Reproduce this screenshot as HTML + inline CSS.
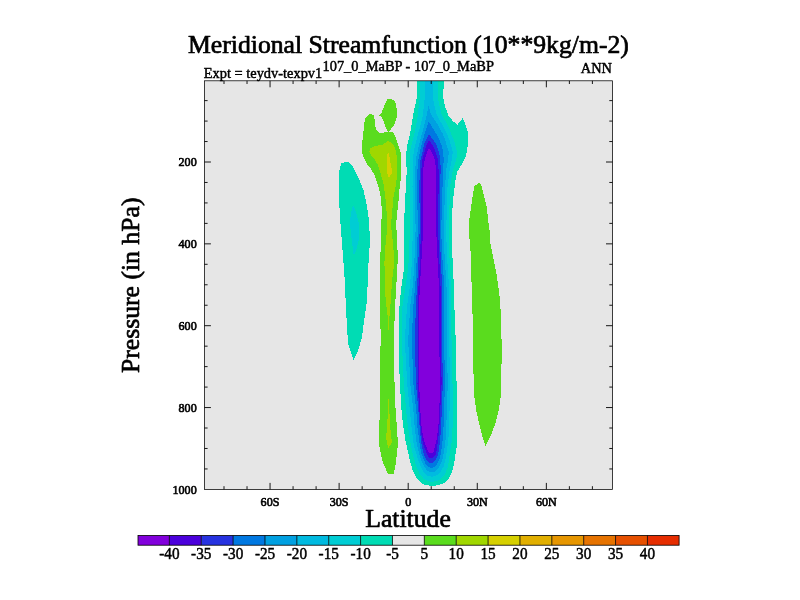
<!DOCTYPE html>
<html lang="en"><head><meta charset="utf-8"><title>Meridional Streamfunction</title>
<style>html,body{margin:0;padding:0;background:#fff}svg{display:block}text{font-family:"Liberation Serif",serif;fill:#000;stroke:#000;stroke-linejoin:round}</style></head><body>
<svg width="800" height="600" viewBox="0 0 800 600">
<rect width="800" height="600" fill="#fff"/>
<rect x="204.4" y="80.8" width="408.1" height="408.6" fill="#e6e6e6"/>
<clipPath id="c"><rect x="204.4" y="80.8" width="408.1" height="408.6"/></clipPath>
<g clip-path="url(#c)" shape-rendering="crispEdges">
<polygon points="341.2,163.1 347.5,161.9 349.5,163.0 353.0,167.0 355.0,171.2 360.0,181.2 363.8,191.2 366.2,202.5 368.1,213.8 369.4,225.0 369.8,243.8 368.1,268.8 367.1,300.0 364.4,318.8 361.9,337.5 357.5,352.5 353.5,359.8 348.1,343.8 346.9,325.0 345.6,300.0 344.4,275.0 342.5,250.0 340.6,225.0 339.4,206.2 339.0,187.5 339.4,170.0" fill="#00dcb4"/>
<polygon points="353.1,205.0 356.2,212.5 359.4,225.0 359.4,237.5 356.2,250.0 353.8,256.2 351.9,241.2 350.0,225.0 350.6,215.0" fill="#00cdd4"/>
<polygon points="480.0,182.4 481.9,187.5 484.4,197.5 486.9,207.5 488.1,220.0 489.8,232.5 490.6,245.0 493.8,260.0 496.9,276.2 499.4,295.0 500.6,310.0 501.0,320.0 501.5,338.8 501.5,363.8 501.0,382.5 500.6,397.5 498.8,410.0 495.6,422.5 491.2,435.0 485.6,445.9 481.9,435.0 478.8,422.5 476.2,410.0 474.4,397.5 474.0,385.0 473.1,365.0 472.8,320.0 472.2,307.0 471.2,270.0 470.6,252.0 469.1,233.8 469.1,221.0 470.6,210.0 472.8,195.0 474.4,186.2" fill="#5adc1e"/>
<polygon points="371.0,113.6 373.6,115.2 374.8,120.5 375.5,126.5 376.2,130.2 379.2,132.5 382.2,132.9 385.2,132.1 388.0,131.5 386.0,128.0 383.8,122.0 381.9,117.5 378.9,115.1 381.5,112.6 383.4,108.5 385.2,103.2 387.1,99.5 388.2,98.8 394.2,99.9 396.1,104.8 397.1,112.2 396.5,118.2 394.2,125.0 391.2,128.8 388.6,131.6 392.8,132.5 395.0,135.5 397.5,143.1 400.0,150.0 400.6,152.0 400.9,159.4 401.2,168.8 400.9,178.0 399.7,187.0 398.1,206.0 396.9,215.0 396.2,224.0 397.5,250.0 397.6,262.0 397.2,270.0 396.2,288.0 395.0,307.0 394.4,325.0 394.4,375.0 394.8,400.0 396.2,415.0 396.9,430.6 397.8,440.0 397.5,448.0 396.9,453.8 395.6,465.0 393.8,474.0 388.1,474.0 386.2,470.0 382.5,461.2 380.0,450.0 379.0,443.8 379.4,425.0 380.0,400.0 380.2,375.0 380.6,337.5 380.2,300.0 380.2,287.5 379.8,266.2 380.6,250.0 381.2,225.0 381.9,212.5 381.2,200.0 378.8,187.5 375.0,176.2 370.5,168.0 367.0,164.0 363.4,157.0 361.5,150.0 362.5,140.0 363.5,131.0 363.9,125.0 365.0,119.0 368.0,115.2" fill="#5adc1e"/>
<polygon points="388.0,141.0 392.0,143.0 394.5,147.0 396.3,152.0 397.2,162.5 397.3,175.0 395.6,186.0 393.5,197.5 392.1,212.5 390.9,225.0 393.1,243.8 394.4,262.5 392.0,281.2 390.8,300.0 389.8,312.5 388.5,330.0 387.5,315.0 385.6,300.0 385.0,281.2 384.4,262.5 385.6,243.8 387.5,225.0 386.9,215.0 385.6,200.0 383.8,185.0 380.0,171.2 378.0,165.0 375.0,160.0 371.0,155.5 369.3,151.5 370.5,148.0 375.0,146.0 383.0,144.5" fill="#a0d700"/>
<polygon points="388.5,398.8 389.4,412.5 390.6,431.2 391.9,442.5 388.5,448.1 386.9,443.8 386.2,437.5 387.5,418.8" fill="#a0d700"/>
<polygon points="387.9,150.6 389.7,158.0 390.5,163.0 392.5,172.0 388.7,178.1 387.0,172.5 386.8,165.0 387.0,158.0" fill="#d6d000"/>
<polygon points="416.9,80.5 416.9,96.8 415.0,106.1 413.1,115.0 411.6,124.4 410.0,133.8 407.6,143.1 406.4,152.0 406.2,159.4 406.7,171.9 406.2,181.2 405.8,187.0 404.4,215.0 404.1,230.0 404.0,252.0 403.8,270.0 401.2,288.0 399.4,307.0 399.0,340.0 399.1,365.0 400.0,383.8 400.9,402.0 401.9,415.0 403.4,427.5 405.4,440.0 408.0,452.0 410.0,461.4 412.5,469.5 415.6,476.4 419.4,481.4 423.1,484.2 427.5,485.4 432.5,485.8 437.5,485.4 441.2,484.2 444.6,483.0 448.1,479.5 451.2,473.9 453.1,468.2 454.7,460.1 455.8,452.0 456.9,446.0 456.9,415.0 456.6,383.8 456.0,365.0 455.7,340.0 454.4,307.0 453.9,288.0 453.1,270.0 452.2,252.0 451.9,230.0 452.1,215.0 453.0,200.0 454.7,187.0 455.3,181.2 456.2,176.2 457.5,171.2 460.6,166.2 463.8,160.6 466.2,155.0 467.2,150.0 468.1,140.0 467.5,130.6 465.0,123.1 462.5,118.4 457.2,125.0 452.5,120.6 448.1,115.0 445.0,106.1 443.4,98.6 443.4,90.5 444.1,80.5" fill="#00dcb4"/>
<polygon points="420.0,80.5 420.0,96.8 418.8,105.5 417.9,115.0 416.2,124.4 415.6,127.5 414.4,133.8 412.7,140.0 411.9,143.1 411.2,146.2 410.0,152.0 409.7,159.4 409.7,168.8 409.7,187.0 409.7,230.0 409.3,252.0 408.0,270.0 405.2,288.0 402.4,307.0 401.8,340.0 403.8,383.8 406.6,415.0 408.1,427.5 410.0,440.0 411.0,446.2 412.3,452.0 414.4,460.1 416.9,468.2 420.0,474.5 423.8,478.9 428.1,481.3 432.5,481.7 437.5,481.0 441.9,478.2 445.0,474.5 447.5,467.6 449.1,460.1 450.0,452.0 451.2,446.2 451.9,440.0 452.5,427.5 452.5,415.0 452.5,383.8 451.5,340.0 451.4,307.0 451.2,288.0 450.2,270.0 449.2,252.0 448.8,230.0 450.0,187.0 453.1,168.8 456.4,159.4 456.9,152.0 455.6,146.2 454.7,143.1 453.8,140.0 451.2,133.8 448.8,127.5 447.2,124.4 441.9,115.0 439.3,105.5 437.8,96.8 438.1,80.5" fill="#00cdd4"/>
<polygon points="425.0,80.5 425.0,96.8 423.8,105.5 423.0,115.0 420.6,124.4 419.8,127.5 418.1,133.8 416.4,140.0 415.6,143.1 414.9,146.2 413.8,152.0 412.9,159.4 412.7,168.8 412.5,187.0 412.8,230.0 412.2,252.0 411.4,270.0 409.7,288.0 407.0,307.0 404.8,340.0 407.2,383.8 410.3,415.0 411.6,427.5 413.1,440.0 414.1,446.2 415.8,452.0 418.1,459.5 420.6,466.4 423.8,472.0 427.5,475.6 432.2,476.7 436.9,475.4 440.6,471.7 443.5,466.8 445.6,458.2 446.6,452.0 447.5,446.2 448.3,440.0 449.2,427.5 449.4,415.0 450.3,383.8 449.0,340.0 449.0,307.0 449.1,288.0 447.9,270.0 446.8,252.0 446.2,230.0 447.5,187.0 449.8,168.8 451.9,159.4 452.8,152.0 451.2,146.2 450.3,143.1 449.4,140.0 446.9,133.8 443.8,127.5 442.0,124.4 436.9,115.0 434.3,105.5 432.8,96.8 432.5,80.5" fill="#00bae0"/>
<polygon points="428.4,105.5 426.9,115.0 424.4,124.4 423.6,127.5 421.9,133.8 420.2,140.0 419.4,143.1 418.7,146.2 417.5,152.0 415.8,159.4 415.4,168.8 415.0,187.0 415.6,230.0 414.8,252.0 414.0,270.0 412.5,288.0 410.2,307.0 408.2,340.0 410.3,383.8 413.8,415.0 414.7,427.5 416.2,440.0 417.2,446.2 418.7,452.0 420.6,458.2 423.1,464.5 426.2,469.5 429.4,472.0 432.2,472.3 435.0,471.4 438.1,468.2 440.4,464.5 442.5,459.0 443.9,452.0 444.7,446.2 445.5,440.0 446.4,427.5 446.6,415.0 447.8,383.8 446.6,340.0 446.6,307.0 446.6,288.0 445.5,270.0 444.4,252.0 443.8,230.0 445.0,187.0 446.4,168.8 448.1,159.4 448.8,152.0 447.0,146.2 446.1,143.1 445.2,140.0 442.7,133.8 439.4,127.5 437.5,124.4 431.2,115.0" fill="#00a0e1"/>
<polygon points="428.6,121.7 427.7,124.4 426.6,127.5 424.7,133.8 422.8,140.0 421.9,143.1 421.2,146.2 420.0,152.0 418.4,159.4 417.5,168.8 417.2,187.0 417.8,230.0 416.9,252.0 416.3,270.0 415.0,288.0 413.2,307.0 411.8,340.0 413.4,383.8 416.6,415.0 417.5,427.5 419.1,440.0 419.9,446.2 421.0,452.0 423.1,458.2 425.6,463.9 428.8,467.4 432.5,467.8 435.6,466.0 438.3,461.8 440.2,456.7 441.2,452.0 441.9,446.2 442.6,440.0 443.5,427.5 443.8,415.0 445.0,383.8 444.1,340.0 444.3,307.0 444.4,288.0 443.2,270.0 442.0,252.0 441.2,230.0 442.5,187.0 443.2,168.8 443.7,159.4 443.1,152.0 441.9,146.2 440.6,143.1 439.4,140.0 436.2,133.8 432.5,127.5 430.5,124.4" fill="#0078e1"/>
<polygon points="428.8,134.2 425.8,140.0 424.6,143.1 423.8,146.2 422.5,152.0 420.6,159.4 419.7,168.8 419.4,187.0 419.7,230.0 418.7,252.0 418.0,270.0 416.9,288.0 415.8,307.0 414.9,340.0 415.9,383.8 418.8,415.0 419.7,427.5 420.9,440.0 421.9,446.2 423.1,452.0 425.0,457.0 427.5,461.4 430.0,463.2 432.8,462.6 435.3,460.1 437.3,456.2 438.6,452.0 439.4,446.2 440.1,440.0 441.1,427.5 441.6,415.0 442.8,383.8 442.2,340.0 442.2,307.0 442.2,288.0 441.3,270.0 440.5,252.0 439.7,230.0 440.3,187.0 440.6,168.8 440.4,159.4 438.8,152.0 436.9,146.2 435.3,143.1 433.4,140.0" fill="#2632e0"/>
<polygon points="428.8,140.6 427.2,143.1 426.0,146.2 424.4,152.0 422.4,159.4 421.4,168.8 420.9,187.0 421.2,230.0 420.1,252.0 419.5,270.0 418.4,288.0 418.0,307.0 418.0,340.0 417.5,383.8 419.7,415.0 420.6,427.5 422.2,440.0 423.7,446.2 426.2,452.0 427.3,455.2 429.4,457.6 431.9,457.9 434.4,456.4 435.8,454.3 436.4,452.0 437.2,446.2 438.1,440.0 439.4,427.5 440.0,415.0 441.6,383.8 441.0,340.0 440.8,307.0 440.6,288.0 439.8,270.0 439.0,252.0 438.1,230.0 438.6,187.0 438.5,168.8 437.9,159.4 435.6,152.0 433.3,146.2 431.2,143.1" fill="#4b00dc"/>
<polygon points="428.8,148.3 427.2,152.0 424.8,159.4 423.2,168.8 422.5,187.0 423.1,230.0 421.9,252.0 420.9,270.0 419.7,288.0 419.2,307.0 419.1,340.0 419.1,383.8 420.6,415.0 421.6,427.5 423.8,440.0 426.0,446.2 428.3,452.0 429.5,453.2 431.5,453.3 433.4,452.0 435.0,446.2 436.6,440.0 438.2,427.5 439.2,415.0 440.0,383.8 439.2,340.0 439.4,307.0 439.1,288.0 438.1,270.0 437.2,252.0 436.2,230.0 436.2,187.0 436.1,168.8 434.7,159.4 431.9,152.0" fill="#8200dc"/>
</g>
<path d="M224.00,489.4v-3.2M224.00,80.8v3.2M247.02,489.4v-3.2M247.02,80.8v3.2M270.05,489.4v-6.5M270.05,80.8v6.5M293.07,489.4v-3.2M293.07,80.8v3.2M316.10,489.4v-3.2M316.10,80.8v3.2M339.12,489.4v-6.5M339.12,80.8v6.5M362.15,489.4v-3.2M362.15,80.8v3.2M385.18,489.4v-3.2M385.18,80.8v3.2M408.20,489.4v-6.5M408.20,80.8v6.5M431.22,489.4v-3.2M431.22,80.8v3.2M454.25,489.4v-3.2M454.25,80.8v3.2M477.27,489.4v-6.5M477.27,80.8v6.5M500.30,489.4v-3.2M500.30,80.8v3.2M523.33,489.4v-3.2M523.33,80.8v3.2M546.35,489.4v-6.5M546.35,80.8v6.5M569.38,489.4v-3.2M569.38,80.8v3.2M592.40,489.4v-3.2M592.40,80.8v3.2M204.4,100.61h3.2M612.5,100.61h-3.2M204.4,121.08h3.2M612.5,121.08h-3.2M204.4,141.54h3.2M612.5,141.54h-3.2M204.4,162.00h6.5M612.5,162.00h-6.5M204.4,182.46h3.2M612.5,182.46h-3.2M204.4,202.93h3.2M612.5,202.93h-3.2M204.4,223.39h3.2M612.5,223.39h-3.2M204.4,243.85h6.5M612.5,243.85h-6.5M204.4,264.31h3.2M612.5,264.31h-3.2M204.4,284.77h3.2M612.5,284.77h-3.2M204.4,305.24h3.2M612.5,305.24h-3.2M204.4,325.70h6.5M612.5,325.70h-6.5M204.4,346.16h3.2M612.5,346.16h-3.2M204.4,366.62h3.2M612.5,366.62h-3.2M204.4,387.09h3.2M612.5,387.09h-3.2M204.4,407.55h6.5M612.5,407.55h-6.5M204.4,428.01h3.2M612.5,428.01h-3.2M204.4,448.48h3.2M612.5,448.48h-3.2M204.4,468.94h3.2M612.5,468.94h-3.2" stroke="#000" stroke-width="0.9" fill="none"/>
<rect x="204.4" y="80.8" width="408.1" height="408.6" fill="none" stroke="#000" stroke-width="0.75"/>
<text transform="translate(408.4,53.2)" font-size="25.7" stroke-width="0.7" text-anchor="middle">Meridional Streamfunction (10**9kg/m-2)</text>
<text transform="translate(203.8,77.7) scale(1,1.06)" font-size="14.4" stroke-width="0.45">Expt = teydv-texpv1</text>
<text transform="translate(408.2,71.2) scale(1,1.06)" font-size="14.4" stroke-width="0.45" text-anchor="middle">107_0_MaBP - 107_0_MaBP</text>
<text transform="translate(612,72.8) scale(1,1.06)" font-size="14.4" stroke-width="0.45" text-anchor="end">ANN</text>
<text transform="translate(408.0,526.6)" font-size="25.7" stroke-width="0.7" text-anchor="middle">Latitude</text>
<text transform="translate(138.5,285.3) rotate(-90)" font-size="25.7" stroke-width="0.7" text-anchor="middle">Pressure (in hPa)</text>
<text transform="translate(196.7,166.4) scale(1,1.1)" font-size="12.1" stroke-width="0.6" text-anchor="end">200</text>
<text transform="translate(196.7,248.2) scale(1,1.1)" font-size="12.1" stroke-width="0.6" text-anchor="end">400</text>
<text transform="translate(196.7,330.1) scale(1,1.1)" font-size="12.1" stroke-width="0.6" text-anchor="end">600</text>
<text transform="translate(196.7,411.9) scale(1,1.1)" font-size="12.1" stroke-width="0.6" text-anchor="end">800</text>
<text transform="translate(196.7,493.8) scale(1,1.1)" font-size="12.1" stroke-width="0.6" text-anchor="end">1000</text>
<text transform="translate(270.0,506.0) scale(1,1.1)" font-size="12.1" stroke-width="0.6" text-anchor="middle">60S</text>
<text transform="translate(339.1,506.0) scale(1,1.1)" font-size="12.1" stroke-width="0.6" text-anchor="middle">30S</text>
<text transform="translate(408.2,506.0) scale(1,1.1)" font-size="12.1" stroke-width="0.6" text-anchor="middle">0</text>
<text transform="translate(477.3,506.0) scale(1,1.1)" font-size="12.1" stroke-width="0.6" text-anchor="middle">30N</text>
<text transform="translate(546.4,506.0) scale(1,1.1)" font-size="12.1" stroke-width="0.6" text-anchor="middle">60N</text>
<rect x="138.00" y="535.5" width="31.47" height="9.7" fill="#8200dc"/>
<rect x="169.37" y="535.5" width="31.97" height="9.7" fill="#4b00dc"/>
<rect x="201.24" y="535.5" width="31.97" height="9.7" fill="#2632e0"/>
<rect x="233.11" y="535.5" width="31.97" height="9.7" fill="#0078e1"/>
<rect x="264.98" y="535.5" width="31.97" height="9.7" fill="#00a0e1"/>
<rect x="296.85" y="535.5" width="31.97" height="9.7" fill="#00bae0"/>
<rect x="328.72" y="535.5" width="31.97" height="9.7" fill="#00cdd4"/>
<rect x="360.59" y="535.5" width="31.97" height="9.7" fill="#00dcb4"/>
<rect x="392.46" y="535.5" width="31.97" height="9.7" fill="#e6e6e6"/>
<rect x="424.34" y="535.5" width="31.97" height="9.7" fill="#5adc1e"/>
<rect x="456.21" y="535.5" width="31.97" height="9.7" fill="#a0d700"/>
<rect x="488.08" y="535.5" width="31.97" height="9.7" fill="#d6d000"/>
<rect x="519.95" y="535.5" width="31.97" height="9.7" fill="#e1af00"/>
<rect x="551.82" y="535.5" width="31.97" height="9.7" fill="#e69600"/>
<rect x="583.69" y="535.5" width="31.97" height="9.7" fill="#e67300"/>
<rect x="615.56" y="535.5" width="31.97" height="9.7" fill="#e65000"/>
<rect x="647.43" y="535.5" width="31.67" height="9.7" fill="#e62d00"/>
<path d="M169.37,535.5V545.2M201.24,535.5V545.2M233.11,535.5V545.2M264.98,535.5V545.2M296.85,535.5V545.2M328.72,535.5V545.2M360.59,535.5V545.2M392.46,535.5V545.2M424.34,535.5V545.2M456.21,535.5V545.2M488.08,535.5V545.2M519.95,535.5V545.2M551.82,535.5V545.2M583.69,535.5V545.2M615.56,535.5V545.2M647.43,535.5V545.2" stroke="#000" stroke-width="0.8" fill="none"/>
<rect x="138.0" y="535.5" width="541.1" height="9.7" fill="none" stroke="#000" stroke-width="0.8"/>
<text transform="translate(169.4,559.3) scale(1,1.13)" font-size="15.2" stroke-width="0.45" text-anchor="middle">-40</text>
<text transform="translate(201.2,559.3) scale(1,1.13)" font-size="15.2" stroke-width="0.45" text-anchor="middle">-35</text>
<text transform="translate(233.1,559.3) scale(1,1.13)" font-size="15.2" stroke-width="0.45" text-anchor="middle">-30</text>
<text transform="translate(265.0,559.3) scale(1,1.13)" font-size="15.2" stroke-width="0.45" text-anchor="middle">-25</text>
<text transform="translate(296.9,559.3) scale(1,1.13)" font-size="15.2" stroke-width="0.45" text-anchor="middle">-20</text>
<text transform="translate(328.7,559.3) scale(1,1.13)" font-size="15.2" stroke-width="0.45" text-anchor="middle">-15</text>
<text transform="translate(360.6,559.3) scale(1,1.13)" font-size="15.2" stroke-width="0.45" text-anchor="middle">-10</text>
<text transform="translate(392.5,559.3) scale(1,1.13)" font-size="15.2" stroke-width="0.45" text-anchor="middle">-5</text>
<text transform="translate(424.3,559.3) scale(1,1.13)" font-size="15.2" stroke-width="0.45" text-anchor="middle">5</text>
<text transform="translate(456.2,559.3) scale(1,1.13)" font-size="15.2" stroke-width="0.45" text-anchor="middle">10</text>
<text transform="translate(488.1,559.3) scale(1,1.13)" font-size="15.2" stroke-width="0.45" text-anchor="middle">15</text>
<text transform="translate(519.9,559.3) scale(1,1.13)" font-size="15.2" stroke-width="0.45" text-anchor="middle">20</text>
<text transform="translate(551.8,559.3) scale(1,1.13)" font-size="15.2" stroke-width="0.45" text-anchor="middle">25</text>
<text transform="translate(583.7,559.3) scale(1,1.13)" font-size="15.2" stroke-width="0.45" text-anchor="middle">30</text>
<text transform="translate(615.6,559.3) scale(1,1.13)" font-size="15.2" stroke-width="0.45" text-anchor="middle">35</text>
<text transform="translate(647.4,559.3) scale(1,1.13)" font-size="15.2" stroke-width="0.45" text-anchor="middle">40</text>
</svg></body></html>
